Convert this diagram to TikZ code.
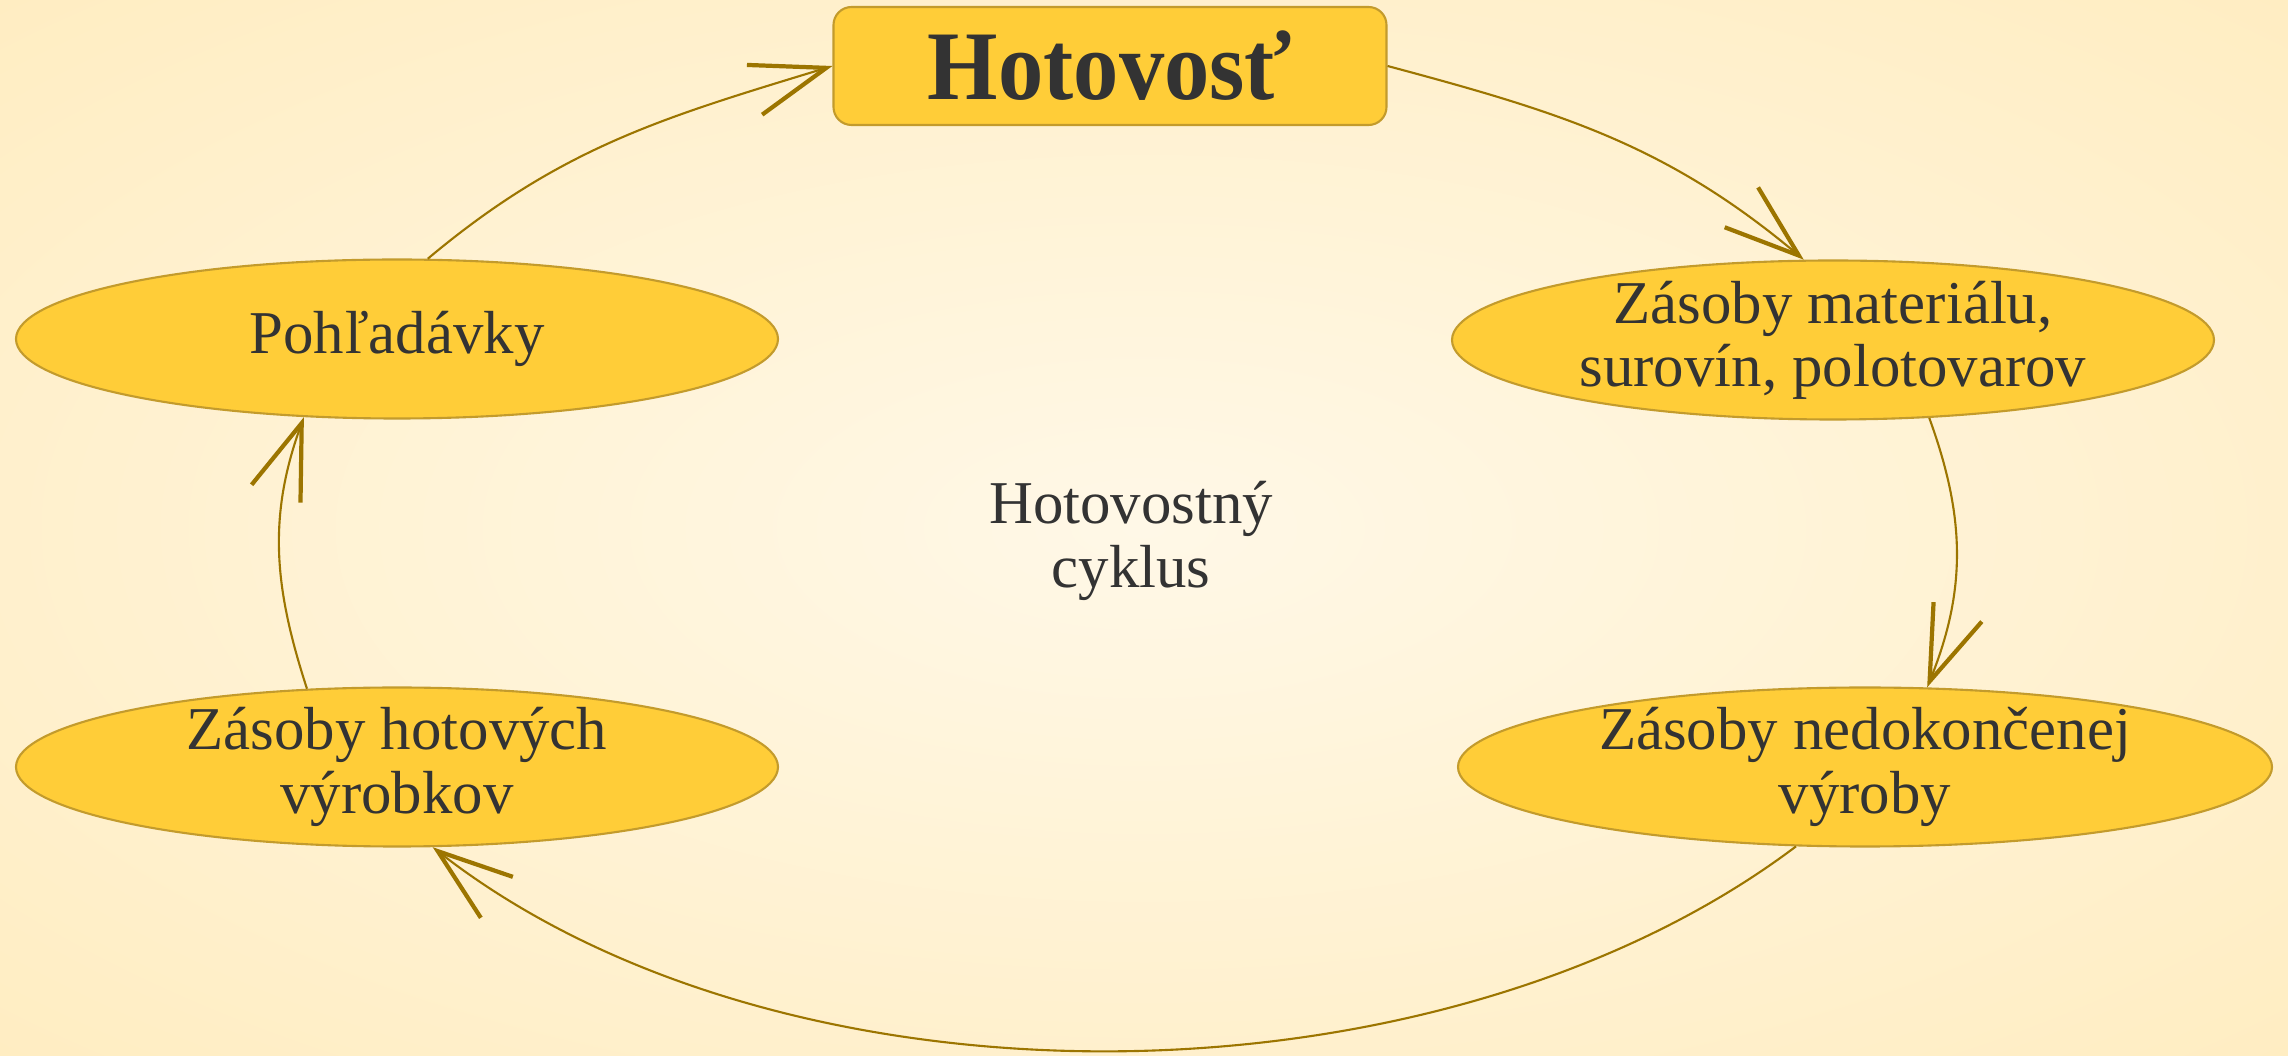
\documentclass[tikz,border=0pt]{standalone}
\usepackage{fontspec}
\setmainfont{Liberation Serif}
\usepackage{graphicx}
\usepackage{tikz}
\usetikzlibrary{arrows.meta,shapes,positioning}
\definecolor{cashfill}{HTML}{FFCD38}
\definecolor{cashedge}{HTML}{C39B2C}
\definecolor{cashline}{HTML}{9C7500}
\definecolor{cashtext}{HTML}{333333}
\definecolor{bgin}{HTML}{FFF8E7}
\definecolor{bgout}{HTML}{FFEDC2}
\tikzstyle{stock} = [ellipse, draw=cashedge, fill=cashfill, line width=0.6pt, inner xsep=0pt, inner ysep=-1.3pt,
                     minimum width=7.62cm, minimum height=1.59cm, text=cashtext, align=center,
                     font=\fontsize{17.3}{18}\selectfont]
\tikzstyle{cash}  = [rectangle, rounded corners=0.18cm, draw=cashedge, fill=cashfill, line width=0.6pt,
                     minimum width=5.53cm, minimum height=1.18cm, text=cashtext,
                     font=\fontsize{28}{30}\selectfont\bfseries]
\tikzstyle{flow}  = [cashline, line width=0.6pt,
                     -{Straight Barb[length=0.75cm, width=0.52cm, line width=1.2pt]}]

\begin{document}
\begin{tikzpicture}
        % background
        \useasboundingbox (0,0) rectangle (22.88,10.56);
        \begin{scope}
            \clip (0,0) rectangle (22.88,10.56);
            \shade[inner color=bgin, outer color=bgout] (-4.74,-2.19) rectangle (27.62,12.75);
        \end{scope}

        \node[cash] (hot) at (11.10,9.90) {\scalebox{0.92}[1]{Hotovosť}};
        \node[stock] (zm) at (18.33,7.16) {Zásoby materiálu,\\surovín, polotovarov};
        \node[stock, minimum width=8.14cm] (zn) at (18.65,2.89) {Zásoby nedokončenej\\výroby};
        \node[stock] (zh) at (3.97,2.89) {Zásoby hotových\\výrobkov};
        \node[stock] (poh) at (3.97,7.17) {Pohľadávky};
        \node[text=cashtext, align=center, font=\fontsize{17.3}{18}\selectfont] (cyc) at (11.31,5.15)
            {Hotovostný\\cyklus};

        % cycle
        \draw[flow] (hot.east) to[out=-15, in=140] (zm.110);
        \draw[flow] (zm.-39) to[out=-70, in=68] (zn.52);
        \draw[flow] (zn.-131) to[out=-143, in=-38, looseness=0.84] (zh.-66);
        \draw[flow] (zh.139) to[out=108, in=-110] (poh.-140);
        \draw[flow] (poh.69) to[out=40, in=197] (hot.west);
\end{tikzpicture}
\end{document}
